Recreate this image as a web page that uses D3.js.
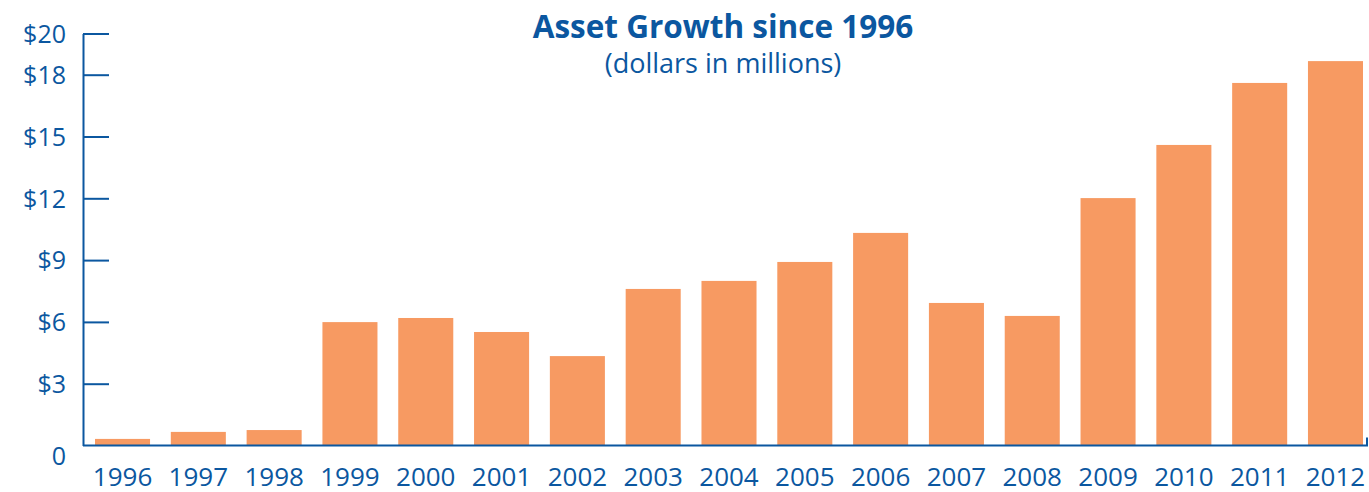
<!DOCTYPE html>
<html>
<head>
<meta charset="utf-8">
<script src="https://cdn.jsdelivr.net/npm/d3@7"></script>
<style>
  html, body { margin: 0; padding: 0; background: #fff; }
  svg { display: block; }
  text { font-family: "Open Sans", "Lato", sans-serif; }
</style>
</head>
<body>
<svg id="chart" width="1369" height="492"></svg>
<script>
const years = ["1996","1997","1998","1999","2000","2001","2002","2003","2004","2005","2006","2007","2008","2009","2010","2011","2012"];
const assets = [0.32, 0.66, 0.75, 5.99, 6.19, 5.51, 4.34, 7.6, 7.99, 8.91, 10.32, 6.92, 6.29, 12.01, 14.59, 17.6, 18.66];
const yTicks = [0, 3, 6, 9, 12, 15, 18, 20];
const yTickLabels = ["0", "$3", "$6", "$9", "$12", "$15", "$18", "$20"];
const title = "Asset Growth since 1996";
const subtitle = "(dollars in millions)";

const blue = "#0b57a0";
const orange = "#f79a62";

const svg = d3.select("#chart");

const x = d3.scaleBand().domain(years).range([95, 1363]).paddingInner(0.274).paddingOuter(0);
const y = d3.scaleLinear().domain([0, 20]).range([445.5, 33.5]);

// bars
svg.append("g").selectAll("rect").data(years).join("rect")
  .attr("x", d => x(d))
  .attr("width", x.bandwidth())
  .attr("y", (d, i) => y(assets[i]))
  .attr("height", (d, i) => y(0) - y(assets[i]))
  .attr("fill", orange);

// y axis
const yAxis = d3.axisLeft(y)
  .tickValues(yTicks)
  .tickFormat((d, i) => yTickLabels[i])
  .tickSizeInner(-26)
  .tickSizeOuter(0)
  .tickPadding(17);
const gy = svg.append("g").attr("transform", "translate(83,0)").call(yAxis);
gy.select(".domain").attr("stroke", blue).attr("stroke-width", 2);
gy.selectAll(".tick line").attr("stroke", blue).attr("stroke-width", 2);
gy.selectAll(".tick text")
  .attr("fill", blue)
  .style("font-size", "25px")
  .attr("dy", d => d === 0 ? "0.75em" : "0.35em");
gy.selectAll(".tick").filter(d => d === 0).select("line").remove();

// x axis
const xAxis = d3.axisBottom(x).tickSize(0).tickPadding(40);
const gx = svg.append("g").attr("transform", `translate(0,${y(0)})`).call(xAxis);
gx.select(".domain").remove();
gx.selectAll(".tick text").attr("fill", blue).style("font-size", "26px").attr("dy", "0");

// baseline with small right end tick
svg.append("path")
  .attr("d", d3.line()([[83, y(0)], [1367, y(0)], [1367, y(0) - 8]]))
  .attr("fill", "none")
  .attr("stroke", blue)
  .attr("stroke-width", 2);

// titles
svg.append("text")
  .attr("x", 723).attr("y", 38)
  .attr("text-anchor", "middle")
  .attr("fill", blue)
  .style("font-size", "31.5px")
  .style("font-weight", "bold")
  .text(title);
svg.append("text")
  .attr("x", 723).attr("y", 73)
  .attr("text-anchor", "middle")
  .attr("fill", blue)
  .style("font-size", "27px")
  .text(subtitle);
</script>
</body>
</html>
